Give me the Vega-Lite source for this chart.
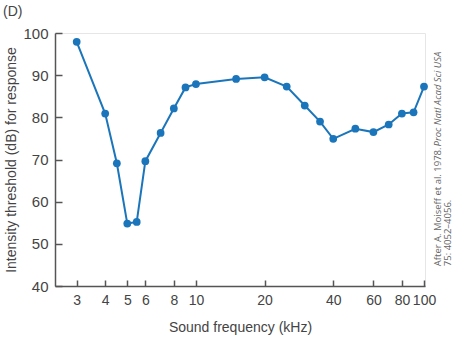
{
  "$schema": "https://vega.github.io/schema/vega-lite/v6.json",
  "width": 370,
  "height": 253,
  "autosize": "none",
  "padding": {"left": 55, "top": 33, "right": 35, "bottom": 52},
  "background": "white",
  "title": {"text": "(D)", "anchor": "start", "frame": "group", "dx": -52, "offset": 7, "fontSize": 14, "fontWeight": "normal", "color": "#444", "font": "Liberation Sans"},
  "config": {
    "font": "Liberation Sans",
    "view": {"stroke": "#e6e6e6", "strokeWidth": 1},
    "axis": {"grid": false, "domainColor": "#555", "domainWidth": 1.5, "tickColor": "#555", "tickWidth": 1.5, "labelColor": "#444", "titleColor": "#444", "titleFontWeight": "normal", "labelFont": "Liberation Sans", "titleFont": "Liberation Sans"}
  },
  "layer": [
    {
      "data": {"values": [
        {"freq": 3, "db": 97.9},
        {"freq": 4, "db": 80.9},
        {"freq": 4.5, "db": 69.1},
        {"freq": 5, "db": 54.8},
        {"freq": 5.5, "db": 55.2},
        {"freq": 6, "db": 69.6},
        {"freq": 7, "db": 76.3},
        {"freq": 8, "db": 82.1},
        {"freq": 9, "db": 87.1},
        {"freq": 10, "db": 87.9},
        {"freq": 15, "db": 89.1},
        {"freq": 20, "db": 89.5},
        {"freq": 25, "db": 87.3},
        {"freq": 30, "db": 82.8},
        {"freq": 35, "db": 79.0},
        {"freq": 40, "db": 74.9},
        {"freq": 50, "db": 77.3},
        {"freq": 60, "db": 76.5},
        {"freq": 70, "db": 78.3},
        {"freq": 80, "db": 80.9},
        {"freq": 90, "db": 81.2},
        {"freq": 100, "db": 87.3}
      ]},
      "mark": {"type": "line", "color": "#1b75bb", "strokeWidth": 2, "point": {"filled": true, "size": 60, "color": "#1b75bb", "opacity": 1}},
      "encoding": {
        "x": {"field": "freq", "type": "quantitative",
          "scale": {"type": "log", "domain": [2.41, 101], "nice": false},
          "axis": {"values": [3, 4, 5, 6, 8, 10, 20, 40, 60, 80, 100], "format": "d", "tickSize": -6, "labelPadding": 13, "labelFontSize": 14, "labelFlush": false, "title": "Sound frequency (kHz)", "titleFontSize": 14, "titlePadding": 13}},
        "y": {"field": "db", "type": "quantitative",
          "scale": {"domain": [40, 100], "nice": false, "zero": false},
          "axis": {"values": [40, 50, 60, 70, 80, 90, 100], "tickSize": -7, "labelPadding": 14, "labelFontSize": 15, "title": "Intensity threshold (dB) for response", "titleFontSize": 14, "titlePadding": 4}}
      }
    },
    {
      "data": {"values": [{"label": "After A. Moiseff et al. 1978."}]},
      "mark": {"type": "text", "angle": -90, "align": "left", "baseline": "middle", "dy": 14, "fontSize": 9.5, "color": "#666", "font": "Open Sans"},
      "encoding": {"x": {"datum": 100, "type": "quantitative"}, "y": {"datum": 44.7, "type": "quantitative"}, "text": {"field": "label"}}
    },
    {
      "data": {"values": [{"label": "Proc Natl Acad Sci USA"}]},
      "mark": {"type": "text", "angle": -90, "align": "left", "baseline": "middle", "dy": 14, "fontSize": 9.5, "fontStyle": "italic", "color": "#666", "font": "Open Sans"},
      "encoding": {"x": {"datum": 100, "type": "quantitative"}, "y": {"datum": 73.1, "type": "quantitative"}, "text": {"field": "label"}}
    },
    {
      "data": {"values": [{"label": "75: 4052–4056."}]},
      "mark": {"type": "text", "angle": -90, "align": "left", "baseline": "middle", "dy": 24, "fontSize": 9.5, "color": "#666", "font": "Open Sans"},
      "encoding": {"x": {"datum": 100, "type": "quantitative"}, "y": {"datum": 44.7, "type": "quantitative"}, "text": {"field": "label"}}
    }
  ]
}
